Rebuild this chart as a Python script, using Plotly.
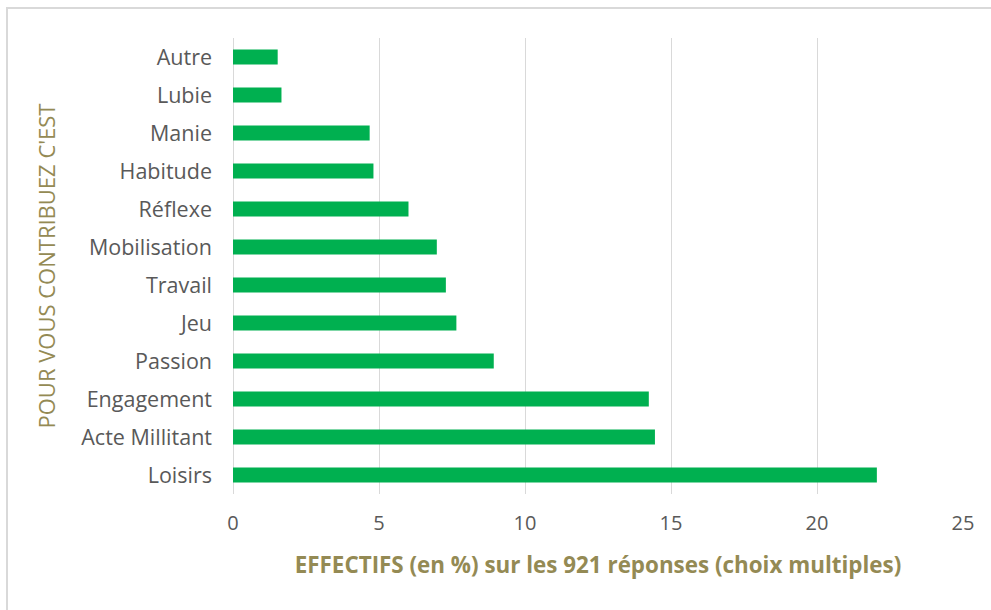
import plotly.graph_objects as go

categories = ["Loisirs", "Acte Millitant", "Engagement", "Passion", "Jeu", "Travail",
              "Mobilisation", "Réflexe", "Habitude", "Manie", "Lubie", "Autre"]
values = [22.05, 14.45, 14.24, 8.93, 7.65, 7.29, 6.98, 6.01, 4.81, 4.68, 1.66, 1.53]
x_ticks = [0, 5, 10, 15, 20, 25]

W, H = 991, 610
L, R, T, B = 233, 963, 38, 494

fig = go.Figure(go.Bar(
    x=values, y=categories, orientation="h",
    marker=dict(color="#00B050", line=dict(width=0)),
    width=0.4,
))

fig.update_layout(
    width=W, height=H,
    margin=dict(l=L, r=W - R, t=T, b=H - B, autoexpand=False),
    paper_bgcolor="white", plot_bgcolor="white",
    font=dict(family="Open Sans, Lato, sans-serif", color="#595959"),
    showlegend=False,
    bargap=0.6,
    xaxis=dict(
        range=[0, 25], tickvals=x_ticks, ticktext=[str(v) for v in x_ticks],
        showgrid=True, gridcolor="#D9D9D9", gridwidth=1,
        zeroline=True, zerolinecolor="#D9D9D9", zerolinewidth=1,
        showline=False, ticks="", tickfont=dict(size=20, color="#595959"),
        ticklabelstandoff=15,
        title=dict(text="<b>EFFECTIFS (en %) sur les 921 réponses (choix multiples)</b>",
                   font=dict(size=22.4, color="#948A54"), standoff=22),
    ),
    yaxis=dict(
        categoryorder="array", categoryarray=categories,
        showgrid=False, zeroline=False, showline=False, ticks="",
        tickfont=dict(size=21.5, color="#595959"), ticklabelstandoff=20,
        title=dict(text="POUR VOUS CONTRIBUEZ C'EST",
                   font=dict(size=22, color="#948A54"), standoff=19),
    ),
    shapes=[dict(
        type="rect", xref="paper", yref="paper",
        x0=(7 - L) / (R - L), x1=(1010 - L) / (R - L),
        y0=(B - 630) / (B - T), y1=(B - 8) / (B - T),
        line=dict(color="#D9D9D9", width=2), fillcolor="rgba(0,0,0,0)", layer="below",
    )],
)

fig.write_html("out.html", config={"displayModeBar": False},
               post_script="document.body.style.margin='0px';")
